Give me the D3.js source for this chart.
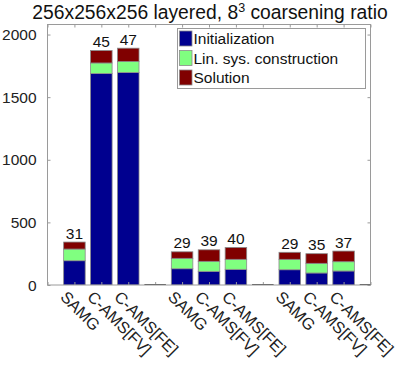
<!DOCTYPE html>
<html>
<head>
<meta charset="utf-8">
<script src="https://cdn.jsdelivr.net/npm/d3@7"></script>
<style>
  html, body { margin: 0; padding: 0; background: #fff; }
  svg { display: block; font-family: "Liberation Sans", Arial, sans-serif; }
</style>
</head>
<body>
<svg id="chart" width="401" height="374"></svg>
<script>
// ---- data ----
const categories = ["SAMG", "C-AMS[FV]", "C-AMS[FE]", "",
                    "SAMG", "C-AMS[FV]", "C-AMS[FE]", "",
                    "SAMG", "C-AMS[FV]", "C-AMS[FE]", ""];
const initialization = [194, 1689, 1697, 0, 130, 109, 125, 0, 122, 96, 112, 0];
const linSysConstruction = [93, 84, 88, 0, 83, 80, 80, 0, 83, 77, 74, 0];
const solution = [56, 99, 106, 0, 52, 92, 95, 0, 56, 77, 85, 0];
const iterationLabels = ["31", "45", "47", "", "29", "39", "40", "", "29", "35", "37", ""];
const seriesNames = ["Initialization", "Lin. sys. construction", "Solution"];
const seriesColors = ["#00008F", "#80FF80", "#800000"];
const yTicks = [0, 500, 1000, 1500, 2000];
const titleMain = "256x256x256 layered, 8";
const titleSup = "3";
const titleTail = " coarsening ratio";

// ---- layout ----
const mLeft = 47.5, mRight = 370.5, mTop = 24.5, mBottom = 285;
const fs = "15.5px";
const svg = d3.select("#chart");

const rows = categories.map((c, i) => ({
  cat: c, i: i,
  Initialization: initialization[i],
  "Lin. sys. construction": linSysConstruction[i],
  Solution: solution[i],
  label: iterationLabels[i]
}));
const totals = rows.map((r, i) => initialization[i] + linSysConstruction[i] + solution[i]);

const x = d3.scaleLinear().domain([0, categories.length]).range([mLeft, mRight]);
const y = d3.scaleLinear().domain([0, 1.1 * d3.max(totals)]).range([mBottom, mTop]);
const slot = x(1) - x(0);
const bw = slot * 0.8;

const stack = d3.stack().keys(seriesNames);
const layers = stack(rows);

svg.append("defs").append("clipPath").attr("id", "clip")
  .append("rect").attr("x", mLeft).attr("y", mTop).attr("width", mRight - mLeft).attr("height", mBottom - mTop);

const plot = svg.append("g").attr("clip-path", "url(#clip)");

// bars
layers.forEach((layer, k) => {
  plot.append("g").selectAll("rect").data(layer.filter(d => d[1] > d[0])).enter()
    .append("rect")
    .attr("x", d => x(d.data.i + 1) - bw / 2)
    .attr("width", bw)
    .attr("y", d => y(d[1]))
    .attr("height", d => y(d[0]) - y(d[1]))
    .attr("fill", seriesColors[k])
    .attr("stroke", "#8a8a8a")
    .attr("stroke-width", 0.8);
});

// axes box
const axisColor = "#9a9a9a";
svg.append("rect").attr("x", mLeft).attr("y", mTop).attr("width", mRight - mLeft).attr("height", mBottom - mTop)
  .attr("fill", "none").attr("stroke", axisColor).attr("stroke-width", 1);

// y axis (left + right, inward ticks)
const yAxisL = d3.axisRight(y).tickValues(yTicks).tickSize(3).tickFormat("");
const gL = svg.append("g").attr("transform", `translate(${mLeft},0)`).call(yAxisL);
const yAxisR = d3.axisLeft(y).tickValues(yTicks).tickSize(3).tickFormat("");
const gR = svg.append("g").attr("transform", `translate(${mRight},0)`).call(yAxisR);
[gL, gR].forEach(g => { g.select(".domain").remove(); g.selectAll("line").attr("stroke", axisColor); });

// y tick labels
svg.append("g").selectAll("text").data(yTicks).enter().append("text")
  .attr("x", mLeft - 11).attr("y", d => y(d) + 5.5)
  .attr("text-anchor", "end").attr("font-size", fs).attr("fill", "#222")
  .text(d => d);

// x axis ticks (bottom + top, inward)
const xTickVals = d3.range(0, categories.length + 1);
const xAxisB = d3.axisTop(x).tickValues(xTickVals).tickSize(3).tickFormat("");
const gB = svg.append("g").attr("transform", `translate(0,${mBottom})`).call(xAxisB);
const xAxisT = d3.axisBottom(x).tickValues(xTickVals).tickSize(3).tickFormat("");
const gT = svg.append("g").attr("transform", `translate(0,${mTop})`).call(xAxisT);
[gB, gT].forEach(g => { g.select(".domain").remove(); g.selectAll("line").attr("stroke", axisColor); });

// empty-slot (zero-height) bars drawn over the bottom axis
svg.append("g").attr("clip-path", "url(#clip)").selectAll("line").data(rows.filter((r, i) => totals[i] === 0)).enter()
  .append("line")
  .attr("x1", d => x(d.i + 1) - bw / 2).attr("x2", d => x(d.i + 1) + bw / 2)
  .attr("y1", y(0) - 0.5).attr("y2", y(0) - 0.5)
  .attr("stroke", "#707070").attr("stroke-width", 1.2);

// x tick labels rotated
svg.append("g").selectAll("text").data(rows.filter(r => r.cat !== "")).enter().append("text")
  .attr("transform", d => `translate(${x(d.i + 1) - 15},${mBottom + 13}) rotate(45)`)
  .attr("font-size", "16.3px").attr("fill", "#222")
  .text(d => d.cat);

// iteration labels above bars
svg.append("g").selectAll("text").data(rows.filter(r => r.label !== "")).enter().append("text")
  .attr("x", d => x(d.i + 1)).attr("y", d => y(totals[d.i]) - 3.5)
  .attr("text-anchor", "middle").attr("font-size", fs).attr("fill", "#111")
  .text(d => d.label);

// title
const title = svg.append("text").attr("x", (mLeft + mRight) / 2 + 1).attr("y", 19)
  .attr("text-anchor", "middle").attr("font-size", "19.3px").attr("fill", "#111");
title.append("tspan").text(titleMain);
title.append("tspan").attr("font-size", "12.5px").attr("dy", -7.5).text(titleSup);
title.append("tspan").attr("dy", 7.5).text(titleTail);

// legend
const lg = svg.append("g");
lg.append("rect").attr("x", 177.5).attr("y", 28.5).attr("width", 188).attr("height", 60)
  .attr("fill", "#fff").attr("stroke", "#9a9a9a").attr("stroke-width", 1);
seriesNames.forEach((name, k) => {
  const cy = 38.5 + k * 19.5;
  lg.append("rect").attr("x", 179.5).attr("y", cy - 7.5).attr("width", 12.5).attr("height", 15)
    .attr("fill", seriesColors[k]).attr("stroke", "#8a8a8a").attr("stroke-width", 0.8);
  lg.append("text").attr("x", 193.5).attr("y", cy + 5.5)
    .attr("font-size", fs).attr("fill", "#111").text(name);
});
</script>
</body>
</html>
